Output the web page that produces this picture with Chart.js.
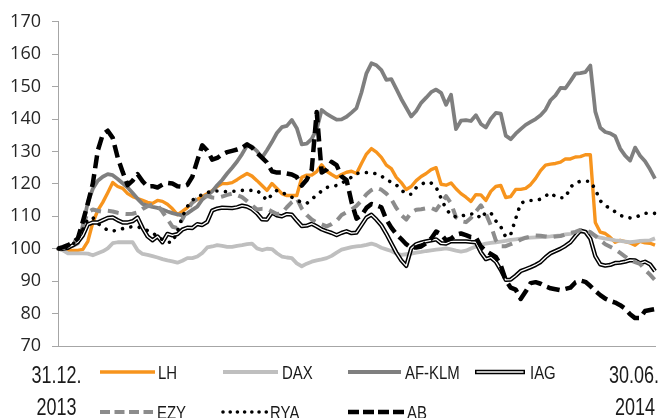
<!DOCTYPE html>
<html><head><meta charset="utf-8">
<script src="https://cdn.jsdelivr.net/npm/chart.js@4/dist/chart.umd.min.js"></script>
<style>html,body{margin:0;padding:0;background:#fff;} #wrap{width:660px;height:418px;position:relative;overflow:hidden;}</style>
</head><body><div id="wrap"><canvas id="c" width="660" height="418"></canvas></div>
<script>
// ---- data ----
const seriesNames = ['LH','DAX','AF-KLM','IAG','EZY','RYA','AB'];
const dateLabels = [['31.12.','2013'],['30.06.','2014']];
const yTicks = [70,80,90,100,110,120,130,140,150,160,170];

const LH = [100,99.7,99.5,99.5,99.5,99.8,102.3,108.1,111.8,114.3,
117.3,120.4,119.2,118.6,117,116.1,115.5,114.9,114.3,114,
114.9,114.6,113.7,112.3,110.5,111.5,112.7,114.3,115.2,116.1,
117,117.9,119.2,120.1,120.1,120.4,121.3,122.3,123.2,122.4,
121,119.5,118,120.1,118.6,117,116.4,116.4,116.4,122,
122.7,122.7,123.8,125.9,123.9,122.9,122,122.9,123.6,123.9,
123.2,126.3,129.2,130.9,129.8,128.2,125.8,124.7,122,120.4,
118.3,119.2,121,122.3,123.2,124.4,125,119.9,119.6,120.3,
118.5,117,115.9,114.6,116.7,116.6,114.9,117.7,119.2,119.5,
115.8,116.1,118.3,118.3,118.6,119.8,121.7,124.1,125.8,126.1,
126.3,126.7,127.7,127.7,128.3,128.4,129,129,108.1,105.1,
104.7,103.5,102,102.6,102.2,101.8,101.1,102.3,101.8,101.7,101.1];

const DAX = [100,99.5,98.6,98.6,98.6,98.6,98.5,98,98.6,99.2,
100.1,101.7,102,102,102,102,99.5,98.4,98.1,97.7,
97.3,96.8,96.4,96.1,95.7,96.3,97.1,97.1,97.6,98.7,
100.4,100.7,101.1,100.9,100.6,100.6,100.9,101.1,101.4,101.6,
100.1,99.6,100,99.9,98.6,97.6,97.3,97.1,95.5,94.6,
95.4,96,96.4,96.7,97.1,97.8,98.8,99.7,100.1,100.5,
100.7,100.9,101.2,101.6,101.1,100.3,99.8,99.3,98.5,98.1,
98.3,98.5,98.8,99,99.3,99.5,99.7,99.9,100.1,99.8,
99.4,99.1,99.4,100.1,100.7,101.1,101.6,101.8,102,102.2,
102.4,102.7,102.9,103.1,103.3,103.4,103.5,103.6,103.7,103.8,
104,104.1,104.4,104.6,105,105.1,105.1,105,103.9,103.4,
103.1,102.9,102.6,102.4,102.2,102,102.2,102.4,102.5,102.6,103.2];

const AFKLM = [100,100.3,100.6,100.9,101.7,107.2,114.3,118.5,121,122.2,
123,122.7,121.5,120.2,118.9,117.2,115.4,113.8,113.3,112.9,
112.6,112.1,111.5,111,110.6,110.3,110.9,112,113,115.2,
116.4,117.7,119.6,121.2,123.2,125,126.9,129.2,131.8,131.5,
130.1,128.1,130.4,132.9,135.7,137.5,137.9,139.7,137.2,132.2,
132.4,133.9,136.9,142.8,141.6,140.7,139.8,139.9,140.7,142,
143.4,148.2,154.1,157.2,156.6,155.1,152.1,152.3,149.3,146.2,
143.5,140.8,142.5,145,146.6,148.3,149.1,148.1,144.4,147.5,
136.9,139.5,139.7,139.4,141.2,138.5,137.4,140.1,141.9,141.7,
134.9,133.8,135.5,136.9,138.2,139.1,140,141.2,142.9,145.8,
147.3,149.6,149.5,151.7,154,154.2,154.5,156.5,142.3,137.3,
136,135.6,134.7,130.9,128.7,127.2,131.2,128.7,127,124.5,121.6];

const IAG = [100,100,100.3,101.1,102.1,104.1,107.5,108.1,108.1,108.8,
109.5,109.7,108.8,108.1,108.1,108.5,109.6,106.4,103.8,102.6,
103.8,102,104.6,104.1,104.5,105.9,106.5,106.4,107.6,107.3,
108.3,111.8,112.4,112.7,112.6,112.5,112.8,113.3,113,112.2,
110.9,109.1,109,111.2,110.3,110,110.7,110.5,108.7,107,
107.1,107.7,106.9,106,105.4,104.9,104.2,104.9,105.4,104.8,
105,107.3,109.6,110.5,109,107.2,104.6,101.7,98.8,96.4,
94.7,100.1,101.4,101.9,102.3,102.6,102.9,101.7,101.6,102.3,
102.3,102.3,102.3,102.1,102,98.9,96.8,97.3,96,93.5,
90.4,90.5,91.7,93.1,93.7,94.3,95,95.9,97.4,98.6,
99.3,100,100.9,102,103.9,105.6,105.2,103.1,97.7,95.2,
94.8,95,95.6,95.7,96,96.5,96.4,95.5,96,95.2,93.1];

const EZY = [100,100.2,100.8,101.7,103.2,107.2,111.2,112.1,111.7,111.4,
111.7,111.5,111.1,110.8,110.7,110.8,111.2,112.3,113.1,113.6,
113.4,111.4,109.1,106.8,106.4,109.1,112,114.2,115.5,116.1,
116.3,115.8,115.7,116.1,116.6,117,116.5,115.9,114.7,113.4,
112.1,112.3,112.3,111.5,110.7,111,112.8,114.4,115.5,112.4,
110.4,109,108.1,107.5,106.9,107.6,108.6,110.4,111.3,112.1,
113.2,114.9,116.8,118.1,118.8,118.2,117,115.3,112.6,110.4,
109,111.2,112,112.2,112.5,112.6,111.9,114.1,116.2,114,
109.7,108.5,108.2,109.5,111.5,113.4,110.8,107.2,102.6,100.8,
100.8,101.4,102,102.8,103.4,103.8,104.1,104,103.8,103.6,
103.8,103.9,104.4,104.9,105.2,105.8,105.7,105.1,104,102.6,
101.4,100.6,99.8,98.7,97.6,96.4,95.9,95.3,93.5,92,90.3];

const RYA = [100,100.2,100.6,101.4,103.1,106,109.1,109.6,107.8,106.7,
105.7,105.5,105.7,106.2,106.6,106.8,106.8,106.2,105.6,104.9,
103.8,102.8,102,102,105.4,109.9,113,115,115.9,116.7,
117.3,117.8,117.8,117.7,117.6,117.7,117.8,118,118,118,
118,116.6,114.9,116.7,118,117.3,116.7,115.9,115,114.2,
114,115.3,116.6,117.8,118.9,119.2,119.5,120.3,121,122.1,
123.2,123.4,123.5,123.4,123.1,122.5,121.2,120.6,119.7,118.1,
116.9,116.8,118.8,119.8,120.6,120.3,119,115.6,112.3,110.4,
109.8,110,110.5,110.7,110.9,109.3,111.2,111.1,108.6,106.8,
103.6,104.4,109.3,114,114.7,114.9,114.9,115.3,116.3,117.2,
116.1,115.7,115.8,119,120.3,120.8,120.8,120.8,118.3,114.8,
113.4,112.3,111.4,110.3,109.8,109.5,109.6,110.3,110.9,111.1,110.9];

const AB = [100,100.5,101.1,101.9,103.2,108.4,114,120.1,130.3,135.3,
136.4,134.2,128.1,123.7,119.6,121,123,120.8,119.2,119.3,
118.9,119.8,120.3,120.1,119.3,119.1,119.7,122.2,127.2,131.9,
130.3,127.5,128,129.1,129.8,130.2,130.6,131.1,132.2,131.2,
129.6,128.1,126.6,123.9,123.5,123.5,123.2,122.9,122.1,119.5,
121.3,124.4,142.2,123.5,124.4,126.8,125.8,122.3,121.2,114.4,
109.3,110.3,112.6,113.8,113.4,112.8,109,106.5,104.5,103,
101.4,100.3,100.4,100.7,101.7,103.1,105.3,104.5,102.6,103.1,
104.3,104.7,104.2,103.6,103.5,100.7,99.3,98.4,97.5,94.9,
90.3,88,87.4,84.5,86.8,89.4,89.7,89.2,88.4,87.8,
87.5,87.2,87.6,88,89.6,90.2,89.8,88.5,87,85.7,
84.6,83.9,83.4,82.6,81.5,79.8,78.6,78.6,80.8,81.1,81.4];

// trading-day index used as category positions
const days = LH.map((_, i) => i);

// ---- styles ----
const styles = {
  'LH':     {color:'#F7941D', width:3.4, dash:[],        cap:'butt',  legendDash:[]},
  'DAX':    {color:'#BFBFBF', width:3.8, dash:[],        cap:'butt',  legendDash:[]},
  'AF-KLM': {color:'#7F7F7F', width:3.8, dash:[],        cap:'butt',  legendDash:[]},
  'IAG':    {color:'#000000', width:4.3, dash:[],        cap:'butt',  legendDash:[]},
  'EZY':    {color:'#8C8C8C', width:4,   dash:[11,7],    cap:'butt',  legendDash:[10,4.5]},
  'RYA':    {color:'#000000', width:3.6, dash:[0.01,8.5],cap:'round', legendDash:[0.01,7.2]},
  'AB':     {color:'#000000', width:4.5, dash:[13,6],    cap:'butt',  legendDash:[11,4]}
};
const seriesData = {'LH':LH,'DAX':DAX,'AF-KLM':AFKLM,'IAG':IAG,'EZY':EZY,'RYA':RYA,'AB':AB};
const drawOrder = {'LH':8,'DAX':7,'AF-KLM':6,'IAG':5,'EZY':3,'RYA':2,'AB':1};

const datasets = [];
seriesNames.forEach(name => {
  const s = styles[name];
  datasets.push({
    label: name, data: seriesData[name], borderColor: s.color, borderWidth: s.width,
    borderDash: s.dash, borderCapStyle: s.cap, borderJoinStyle: 'round',
    pointRadius: 0, tension: 0, fill: false, order: drawOrder[name]
  });
  if (name === 'IAG') {
    datasets.push({
      label: 'IAG-inner', data: seriesData[name], borderColor: '#FFFFFF', borderWidth: 1.3,
      borderJoinStyle: 'round', pointRadius: 0, tension: 0, fill: false, order: 4
    });
  }
});

// legend placement (layout only)
const legendSlots = {
  'LH':     {row:0, x0:100, x1:155, tx:158},
  'DAX':    {row:0, x0:223, x1:278, tx:282},
  'AF-KLM': {row:0, x0:348, x1:401, tx:405},
  'IAG':    {row:0, x0:475, x1:525, tx:530},
  'EZY':    {row:1, x0:100, x1:153, tx:157},
  'RYA':    {row:1, x0:223, x1:267, tx:270},
  'AB':     {row:1, x0:348, x1:405, tx:407}
};
const rowLineY = [372, 412];
const rowTextY = [378.5, 418.5];

function narrowText(ctx, text, x, y, size, sx, align) {
  ctx.save();
  ctx.font = size + 'px "Liberation Sans", Arial, sans-serif';
  const w = ctx.measureText(text).width * sx;
  let left = x;
  if (align === 'center') left = x - w / 2;
  ctx.translate(left, y);
  ctx.scale(sx, 1);
  ctx.textAlign = 'left';
  ctx.textBaseline = 'alphabetic';
  ctx.fillText(text, 0, 0);
  ctx.restore();
}

const extras = {
  id: 'extras',
  afterDraw(chart) {
    const ctx = chart.ctx;
    ctx.save();
    ctx.fillStyle = '#1a1a1a';
    // date labels
    const xs = chart.scales.x;
    const firstX = xs.getPixelForValue(0) - 1.5;
    const lastX = xs.getPixelForValue(days.length - 1) - 21;
    narrowText(ctx, dateLabels[0][0], firstX, 383, 24, 0.75, 'center');
    narrowText(ctx, dateLabels[0][1], firstX, 415, 24, 0.75, 'center');
    narrowText(ctx, dateLabels[1][0], lastX, 383, 24, 0.75, 'center');
    narrowText(ctx, dateLabels[1][1], lastX + 1, 415, 24, 0.75, 'center');
    // legend
    seriesNames.forEach(name => {
      const s = styles[name], p = legendSlots[name];
      const y = rowLineY[p.row];
      ctx.save();
      ctx.beginPath();
      ctx.strokeStyle = s.color;
      ctx.lineWidth = s.width;
      ctx.lineCap = s.cap;
      ctx.setLineDash(s.legendDash);
      ctx.moveTo(p.x0, y); ctx.lineTo(p.x1, y);
      ctx.stroke();
      if (name === 'IAG') {
        ctx.beginPath();
        ctx.strokeStyle = '#FFFFFF';
        ctx.lineWidth = 1.3;
        ctx.setLineDash([]);
        ctx.moveTo(p.x0 + 1.5, y); ctx.lineTo(p.x1 - 1.5, y);
        ctx.stroke();
      }
      ctx.restore();
      ctx.fillStyle = '#1a1a1a';
      narrowText(ctx, name, p.tx, rowTextY[p.row], 18, 0.83, 'left');
    });
    ctx.restore();
  }
};

new Chart(document.getElementById('c'), {
  type: 'line',
  data: { labels: days, datasets: datasets },
  options: {
    responsive: false, animation: false, devicePixelRatio: 1,
    layout: { padding: { top: 20.7, right: 5, bottom: 0, left: 0 } },
    plugins: { legend: { display: false }, tooltip: { enabled: false } },
    scales: {
      x: {
        type: 'category', offset: false,
        grid: { display: false },
        border: { display: true, color: '#A6A6A6', width: 1 },
        ticks: { display: false },
        afterFit: s => { s.height = 72; }
      },
      y: {
        min: 70, max: 170,
        afterBuildTicks: s => { s.ticks = yTicks.map(v => ({value: v})); },
        grid: { display: true, drawOnChartArea: false, drawTicks: true, tickLength: 6, color: '#A6A6A6' },
        border: { display: true, color: '#A6A6A6', width: 1 },
        ticks: { padding: 11, color: '#262626', font: { family: '"Open Sans"', size: 18, weight: 'normal' } },
        afterFit: s => { s.width = 58; }
      }
    }
  },
  plugins: [extras]
});
</script>
</body></html>
